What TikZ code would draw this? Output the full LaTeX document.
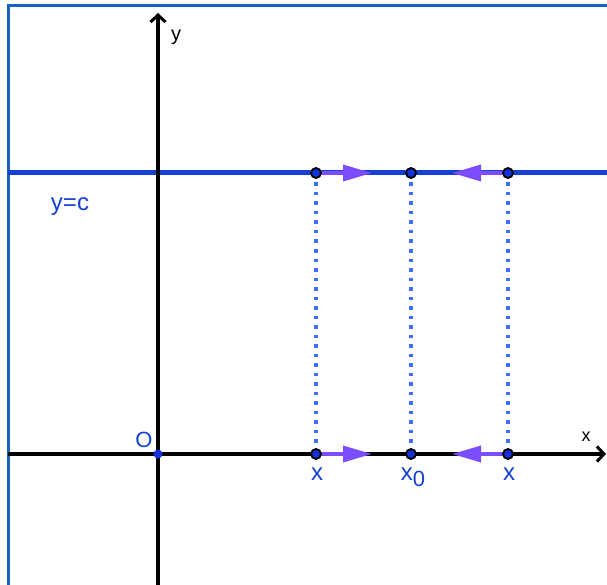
\documentclass[tikz,border=0pt]{standalone}
\usepackage{fontspec}
\setmainfont{Liberation Sans}
\usetikzlibrary{arrows.meta}
\definecolor{frameblue}{RGB}{21,101,192}
\definecolor{lineblue}{RGB}{21,65,210}
\definecolor{dotblue}{RGB}{60,110,255}
\definecolor{ptblue}{RGB}{20,50,220}
\definecolor{arrpurple}{RGB}{124,77,255}
\definecolor{txtblue}{RGB}{21,65,210}
\begin{document}
\begin{tikzpicture}[x=1pt,y=-1pt,
  axis/.style={line width=3.5pt,black,-{Straight Barb[length=7pt,width=15pt,line width=3pt]}},
  pt/.style={circle,draw=black,fill=ptblue,line width=1.8pt,inner sep=0pt,minimum size=10pt},
  opt/.style={circle,fill=ptblue,inner sep=0pt,minimum size=9pt},
  dotline/.style={dotblue,line width=3.5pt,dash pattern=on 3.5pt off 6pt},
  flow/.style={arrpurple,line width=3.5pt,-{Triangle[length=29pt,width=16pt]},shorten >=0pt},
  lbl/.style={text=txtblue,inner sep=0pt}]
\useasboundingbox (0,0) rectangle (607,585);
\fill[white] (0,0) rectangle (607,585);
% frame
\draw[frameblue,line width=3pt] (8,586) -- (8,6) -- (608,6);
% horizontal line y=c
\coordinate (cL) at (8,173);
\coordinate (cR) at (608,173);
\draw[lineblue,line width=5pt] (cL) -- (cR);
% axes
\coordinate (xs) at (8,454);
\coordinate (xe) at (606,454);
\coordinate (ys) at (158,586);
\coordinate (ye) at (158,13);
\draw[axis] (xs) -- (xe);
\draw[axis] (ys) -- (ye);
% points
\coordinate (A1) at (316,173);
\coordinate (A0) at (411,173);
\coordinate (A2) at (508,173);
\coordinate (B1) at (316,454);
\coordinate (B0) at (411,454);
\coordinate (B2) at (508,454);
\coordinate (fa1) at (372,173);
\coordinate (fa2) at (452,173);
\coordinate (fb1) at (372,454);
\coordinate (fb2) at (452,454);
\draw[dotline] (A1) -- (B1);
\draw[dotline] (A0) -- (B0);
\draw[dotline] (A2) -- (B2);
\draw[flow] (A1) -- (fa1);
\draw[flow] (A2) -- (fa2);
\draw[flow] (B1) -- (fb1);
\draw[flow] (B2) -- (fb2);
\node[pt] (a1) at (A1) {};
\node[pt] (a0) at (A0) {};
\node[pt] (a2) at (A2) {};
\node[pt] (b1) at (B1) {};
\node[pt] (b0) at (B0) {};
\node[pt] (b2) at (B2) {};
\node[opt] (o) at (158,454) {};
% labels
\node[inner sep=0pt,font=\fontsize{20}{24}\selectfont] (ylab) at (176,37) {y};
\node[inner sep=0pt,font=\fontsize{18}{22}\selectfont] (xlab) at (586,437) {x};
\node[lbl,font=\fontsize{22}{26}\selectfont] (olab) at (144,440) {O};
\node[lbl,font=\fontsize{24}{28}\selectfont] (yc) at (70,207) {y=c};
\node[lbl,font=\fontsize{24}{28}\selectfont] (x1) at (317,474) {x};
\node[lbl,font=\fontsize{24}{28}\selectfont] (x0) at (413,477) {x\raisebox{-0.45ex}{\fontsize{22}{26}\selectfont 0}};
\node[lbl,font=\fontsize{24}{28}\selectfont] (x2) at (509,474) {x};
\end{tikzpicture}
\end{document}
